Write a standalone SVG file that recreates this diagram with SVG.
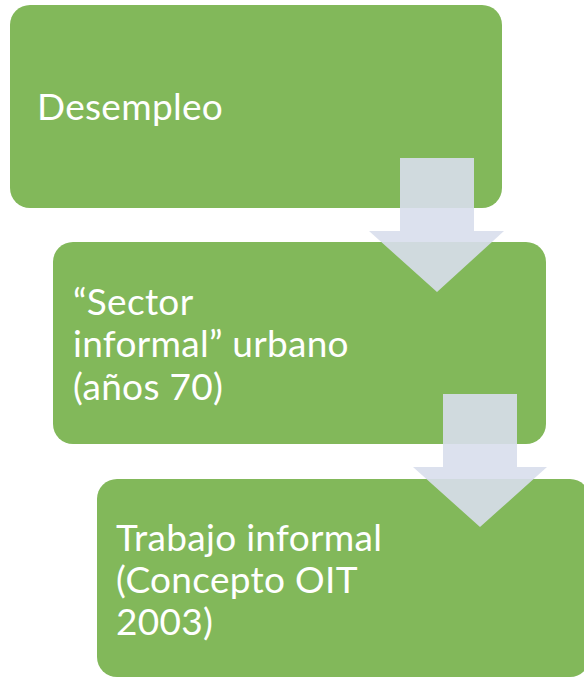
<svg xmlns="http://www.w3.org/2000/svg" width="584" height="678" viewBox="0 0 584 678">
<style>
.box{fill:#82B85A;}
.lbl{fill:#FFFFFF;font-family:Lato,"Liberation Sans",sans-serif;font-size:37px;letter-spacing:0.3px;}
.arr{fill:#D8DEEC;fill-opacity:0.9;}
</style>
<rect width="584" height="678" fill="#FFFFFF"/>
<g id="node1">
<rect class="box" x="10" y="5" width="492" height="203" rx="20"/>
<text class="lbl" x="37" y="120">Desempleo</text>
</g>
<g id="node2">
<rect class="box" x="53" y="242" width="493" height="202" rx="20"/>
<text class="lbl" x="73" y="315">“Sector</text>
<text class="lbl" x="73" y="357">informal” urbano</text>
<text class="lbl" x="73" y="400">(años 70)</text>
</g>
<g id="node3">
<rect class="box" x="97" y="479" width="493" height="198" rx="20"/>
<text class="lbl" x="116" y="551">Trabajo informal</text>
<text class="lbl" x="116" y="593">(Concepto OIT</text>
<text class="lbl" x="116" y="635">2003)</text>
</g>
<g id="connectors">
<polygon class="arr" points="400,158 474,158 474,231 504,231 437,292 369,231 400,231"/>
<polygon class="arr" points="443,394 517,394 517,467 547,467 480,527 413,467 443,467"/>
</g>
</svg>
